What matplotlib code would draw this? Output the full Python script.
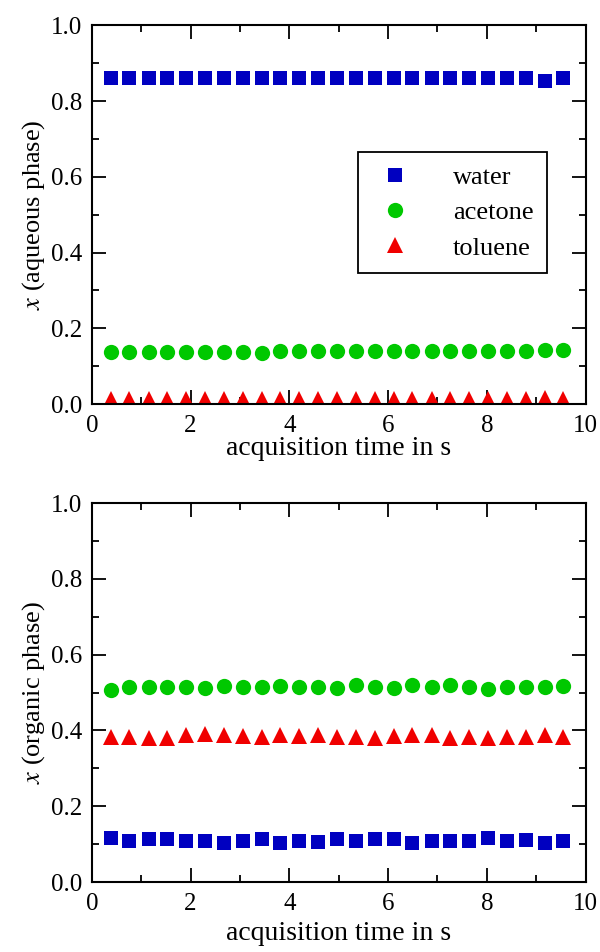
import numpy as np
import matplotlib
matplotlib.use("Agg")
import matplotlib.pyplot as plt
from matplotlib.ticker import MultipleLocator

plt.rcParams['font.family'] = ['Liberation Serif', 'DejaVu Serif']
plt.rcParams['mathtext.fontset'] = 'stix'

# acquisition times (s)
t = [0.38, 0.76, 1.15, 1.53, 1.91, 2.29, 2.67, 3.06, 3.44, 3.82, 4.20, 4.58, 4.97,
     5.35, 5.73, 6.11, 6.49, 6.88, 7.26, 7.64, 8.02, 8.40, 8.79, 9.17, 9.55]

# aqueous phase
aq_water = [0.862, 0.862, 0.862, 0.862, 0.862, 0.862, 0.862, 0.862, 0.862, 0.860,
            0.862, 0.860, 0.860, 0.862, 0.862, 0.862, 0.860, 0.860, 0.860, 0.860,
            0.860, 0.860, 0.860, 0.853, 0.860]
aq_acetone = [0.138, 0.138, 0.138, 0.138, 0.138, 0.138, 0.138, 0.138, 0.136, 0.140,
              0.140, 0.139, 0.139, 0.139, 0.139, 0.139, 0.139, 0.139, 0.139, 0.139,
              0.141, 0.140, 0.139, 0.143, 0.142]
aq_toluene = [0.014, 0.014, 0.014, 0.014, 0.014, 0.014, 0.014, 0.014, 0.014, 0.014,
              0.014, 0.014, 0.014, 0.014, 0.014, 0.014, 0.014, 0.014, 0.014, 0.014,
              0.014, 0.014, 0.014, 0.016, 0.014]

# organic phase
org_water = [0.115, 0.108, 0.113, 0.114, 0.108, 0.108, 0.104, 0.109, 0.113, 0.104,
             0.109, 0.106, 0.113, 0.107, 0.113, 0.113, 0.104, 0.107, 0.107, 0.107,
             0.115, 0.109, 0.111, 0.104, 0.107]
org_acetone = [0.508, 0.515, 0.515, 0.515, 0.515, 0.512, 0.518, 0.515, 0.515, 0.518,
               0.515, 0.515, 0.513, 0.519, 0.515, 0.513, 0.519, 0.515, 0.521, 0.515,
               0.509, 0.516, 0.516, 0.516, 0.518]
org_toluene = [0.383, 0.384, 0.381, 0.381, 0.388, 0.390, 0.388, 0.386, 0.382, 0.387,
               0.386, 0.388, 0.383, 0.382, 0.380, 0.386, 0.388, 0.388, 0.380, 0.383,
               0.381, 0.383, 0.382, 0.388, 0.384]

blue = '#0000c0'
green = '#00c800'
red = '#f00000'

fig = plt.figure(figsize=(6, 9.52), dpi=100)
ax1 = fig.add_axes([0.153, 0.5755, 0.823, 0.398])
ax2 = fig.add_axes([0.153, 0.0735, 0.823, 0.398])

def style(ax, ylab, lpad):
    ax.set_xlim(0, 10)
    ax.set_ylim(0, 1.0)
    ax.xaxis.set_major_locator(MultipleLocator(2))
    ax.xaxis.set_minor_locator(MultipleLocator(1))
    ax.yaxis.set_major_locator(MultipleLocator(0.2))
    ax.yaxis.set_minor_locator(MultipleLocator(0.1))
    ax.set_yticklabels(['%.1f' % v for v in ax.get_yticks()])
    ax.tick_params(which='both', direction='in', top=True, right=True, width=1.3,
                   labelsize=18)
    ax.tick_params(axis='x', pad=8)
    ax.tick_params(axis='y', pad=7)
    ax.tick_params(which='major', length=10)
    ax.tick_params(which='minor', length=5)
    for s in ax.spines.values():
        s.set_linewidth(1.5)
    ax.set_xlabel('acquisition time in s', fontsize=20, labelpad=lpad)
    ax.set_ylabel(ylab, fontsize=19, labelpad=3)

ms = dict(linestyle='none', markeredgewidth=0)
ax1.plot(t, aq_water, marker='s', markersize=10, color=blue, label='water', **ms)
ax1.plot(t, aq_acetone, marker='o', markersize=11, color=green, label='acetone', **ms)
ax1.plot(t, aq_toluene, marker='^', markersize=11, color=red, label='toluene', **ms)
style(ax1, r'$x$ (aqueous phase)', -1)

leg = ax1.legend(loc='upper left', bbox_to_anchor=(0.539, 0.665), fontsize=19,
                 frameon=True, fancybox=False, edgecolor='black', framealpha=1,
                 handletextpad=1.3, handlelength=1.8, borderpad=0.5,
                 labelspacing=0.45, borderaxespad=0)
leg.get_frame().set_linewidth(1.3)

ax2.plot(t, org_water, marker='s', markersize=10, color=blue, **ms)
ax2.plot(t, org_acetone, marker='o', markersize=11, color=green, **ms)
ax2.plot(t, org_toluene, marker='^', markersize=11, color=red, **ms)
style(ax2, r'$x$ (organic phase)', 4)

fig.savefig('out.png', dpi=100)
